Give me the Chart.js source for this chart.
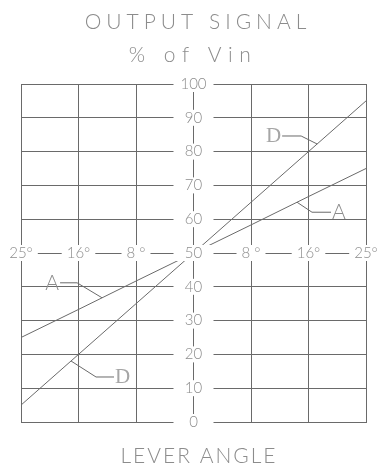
<!DOCTYPE html>
<html>
<head>
<meta charset="utf-8">
<script src="https://cdn.jsdelivr.net/npm/chart.js@4.4.1/dist/chart.umd.min.js"></script>
<style>
  html, body { margin: 0; padding: 0; background: #fff; }
  canvas { display: block; }
</style>
</head>
<body>
<canvas id="signal-chart" width="381" height="467"></canvas>
<script>
// lever angle steps (one grid column each) and their printed labels
const angleSteps = [-3, -2, -1, 0, 1, 2, 3];
const angleLabels = ['25°', '16°', '8 °', '', '8 °', '16°', '25°'];
const signalTicks = [0, 10, 20, 30, 40, 50, 60, 70, 80, 90, 100];

// output signal, % of Vin, at each angle step
const seriesA = [25, 33.3, 41.7, 50, 58.3, 66.7, 75];
const seriesD = [5, 20, 35, 50, 65, 80, 95];

const INK = '#8c8c8c';
const LINE = '#6a6a6a';
const FONT = 'Lato, "DejaVu Sans", sans-serif';

// leader lines: where they touch the curve (angle step), elbow offset, tail length
const callouts = [
    { text: 'D', series: 1, at: 2.15, dx: -16, dy: -8, tail: -19, serif: true },
    { text: 'A', series: 0, at: 1.8, dx: 15, dy: 10, tail: 19 },
    { text: 'A', series: 0, at: -1.59, dx: -25, dy: -15, tail: -17 },
    { text: 'D', series: 1, at: -2.13, dx: 25, dy: 16, tail: 18, serif: true }
];

function pointOnLine(chart, index, at) {
    const pts = chart.getDatasetMeta(index).data;
    const i = Math.min(Math.floor(at - angleSteps[0]), pts.length - 2);
    const f = at - angleSteps[i];
    return {
        x: pts[i].x + (pts[i + 1].x - pts[i].x) * f,
        y: pts[i].y + (pts[i + 1].y - pts[i].y) * f
    };
}

const drawing = {
    id: 'drawing',
    afterDatasetsDraw(chart) {
        const { ctx, scales: { x, y } } = chart;
        const cx = x.getPixelForValue(0);
        const cy = y.getPixelForValue(50);

        ctx.save();
        ctx.font = '300 15px ' + FONT;
        ctx.textAlign = 'center';
        ctx.textBaseline = 'middle';

        y.ticks.forEach(t => {
            const py = y.getPixelForValue(t.value);
            ctx.fillStyle = '#fff';
            ctx.fillRect(cx - 20, py - 8, 40, 16);
            ctx.fillStyle = INK;
            ctx.fillText(String(t.value), cx, py);
        });

        x.ticks.forEach(t => {
            const label = angleLabels[angleSteps.indexOf(t.value)];
            if (!label) return;
            const px = x.getPixelForValue(t.value);
            const w = ctx.measureText(label).width + 10;
            ctx.fillStyle = '#fff';
            ctx.fillRect(px - w / 2, cy - 8, w, 16);
            ctx.fillStyle = INK;
            ctx.fillText(label, px, cy);
        });

        // curve names with leader lines
        callouts.forEach(c => {
            const p = pointOnLine(chart, c.series, c.at);
            const ex = p.x + c.dx, ey = p.y + c.dy;
            ctx.strokeStyle = LINE;
            ctx.lineWidth = 1;
            ctx.beginPath();
            ctx.moveTo(p.x, p.y);
            ctx.lineTo(ex, ey);
            ctx.lineTo(ex + c.tail, ey);
            ctx.stroke();
            ctx.font = c.serif ? '21px "Liberation Serif", serif' : '300 21px ' + FONT;
            ctx.textAlign = c.tail < 0 ? 'right' : 'left';
            ctx.fillStyle = c.serif ? '#a6a6a6' : INK;
            ctx.fillText(c.text, ex + c.tail + (c.tail < 0 ? -1 : 1), ey);
        });
        ctx.restore();
    },
    afterDraw(chart) {
        const ctx = chart.ctx;
        ctx.save();
        ctx.fillStyle = INK;
        ctx.textAlign = 'center';
        ctx.textBaseline = 'alphabetic';
        ctx.font = '300 21px ' + FONT;
        ctx.letterSpacing = '5px';
        ctx.fillText('OUTPUT SIGNAL', 198, 29);
        ctx.letterSpacing = '6.5px';
        ctx.fillText('% of Vin', 193, 62);
        ctx.letterSpacing = '2px';
        ctx.fillText('LEVER ANGLE', 199, 463);
        ctx.restore();
    }
};

const ctx = document.getElementById('signal-chart').getContext('2d');
new Chart(ctx, {
    type: 'line',
    data: {
        datasets: [
            {
                label: 'A',
                data: angleSteps.map((a, i) => ({ x: a, y: seriesA[i] })),
                borderColor: LINE,
                borderWidth: 1,
                pointRadius: 0,
                tension: 0
            },
            {
                label: 'D',
                data: angleSteps.map((a, i) => ({ x: a, y: seriesD[i] })),
                borderColor: LINE,
                borderWidth: 1,
                pointRadius: 0,
                tension: 0
            }
        ]
    },
    options: {
        responsive: false,
        animation: false,
        devicePixelRatio: 1,
        layout: { padding: { left: 21, right: 15, top: 84, bottom: 45 } },
        plugins: {
            legend: { display: false },
            tooltip: { enabled: false }
        },
        scales: {
            x: {
                type: 'linear',
                min: -3,
                max: 3,
                afterBuildTicks: s => { s.ticks = angleSteps.map(v => ({ value: v })); },
                ticks: { display: false },
                grid: { color: LINE, lineWidth: 1, drawTicks: false },
                border: { color: LINE, width: 1 }
            },
            y: {
                min: 0,
                max: 100,
                afterBuildTicks: s => { s.ticks = signalTicks.map(v => ({ value: v })); },
                ticks: { display: false },
                grid: { color: LINE, lineWidth: 1, drawTicks: false },
                border: { color: LINE, width: 1 }
            }
        }
    },
    plugins: [drawing]
});
</script>
</body>
</html>
